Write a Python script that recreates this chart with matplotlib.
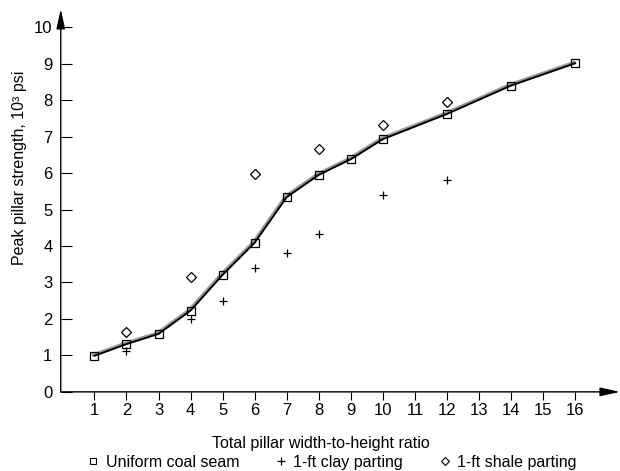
import matplotlib.pyplot as plt
from matplotlib.lines import Line2D
from matplotlib import transforms

plt.rcParams['font.family'] = ['Liberation Sans', 'DejaVu Sans']

# Peak pillar strength (10^3 psi) against total width-to-height ratio
uniform_ratio = [1, 2, 3, 4, 5, 6, 7, 8, 9, 10, 12, 14, 16]
uniform_strength = [0.99, 1.31, 1.59, 2.23, 3.21, 4.09, 5.34, 5.95, 6.38, 6.93, 7.62, 8.4, 9.01]

clay_ratio = [2, 4, 5, 6, 7, 8, 10, 12]
clay_strength = [1.12, 1.99, 2.5, 3.4, 3.82, 4.33, 5.41, 5.81]

shale_ratio = [2, 4, 6, 8, 10, 12]
shale_strength = [1.63, 3.14, 5.97, 6.67, 7.32, 7.94]

x_ticks = list(range(1, 17))
y_ticks = list(range(0, 11))

fig = plt.figure(figsize=(6.2, 4.71), dpi=100)
ax = fig.add_axes([0.098, 0.168, 0.902, 0.813])
ax.set_xlim(-0.05, 17.4)
ax.set_ylim(0, 10.5)

# grey shadow line slightly offset behind the black curve
shadow = transforms.offset_copy(ax.transData, fig=fig, x=-1.0, y=1.0, units='dots')
ax.plot(uniform_ratio, uniform_strength, color='#999999', lw=2.2, transform=shadow, zorder=2)
ax.plot(uniform_ratio, uniform_strength, color='black', lw=1.4, zorder=3)
ax.plot(uniform_ratio, uniform_strength, ls='none', marker='s', ms=6, mfc='none',
        mec='black', mew=0.9, zorder=4)
ax.plot(clay_ratio, clay_strength, ls='none', marker='+', ms=6, mec='black', mew=0.9)
ax.plot(shale_ratio, shale_strength, ls='none', marker='D', ms=5, mfc='none',
        mec='black', mew=0.9)

for side in ['top', 'right', 'left', 'bottom']:
    ax.spines[side].set_visible(False)

# axes drawn as arrows
arrow = dict(arrowstyle='-|>,head_length=1.0,head_width=0.22', color='black', lw=1.0,
             shrinkA=0, shrinkB=0, mutation_scale=12)
ax.annotate('', xy=(0, 1), xytext=(0, 0), xycoords='axes fraction', arrowprops=arrow)
ax.annotate('', xy=(1, 0), xytext=(0, 0), xycoords='axes fraction', arrowprops=arrow)

ax.set_xticks(x_ticks)
ax.set_yticks(y_ticks)
ax.tick_params(axis='x', direction='out', length=6, width=0.8, pad=2, labelsize=12)
ax.tick_params(axis='y', direction='in', length=8, width=0.8, pad=6, labelsize=12)

ax.set_xlabel('Total pillar width-to-height ratio', fontsize=11.5)
ax.xaxis.set_label_coords(0.465, -0.115)
ax.set_ylabel('Peak pillar strength, 10\u00b3 psi', fontsize=11.5)
ax.yaxis.set_label_coords(-0.06, 0.585)

handles = [
    Line2D([], [], ls='none', marker='s', ms=5, mfc='none', mec='black', mew=0.8),
    Line2D([], [], ls='none', marker='+', ms=6, mec='black', mew=0.9),
    Line2D([], [], ls='none', marker='D', ms=4.5, mfc='none', mec='black', mew=0.8),
]
labels = ['Uniform coal seam', '1-ft clay parting', '1-ft shale parting']
fig.legend(handles, labels, loc='center', bbox_to_anchor=(0.535, 0.019), ncol=3,
           frameon=False, fontsize=11.5, handlelength=0.8, handletextpad=0.4,
           columnspacing=2.2, borderpad=0)

fig.savefig('out.png', dpi=100)
